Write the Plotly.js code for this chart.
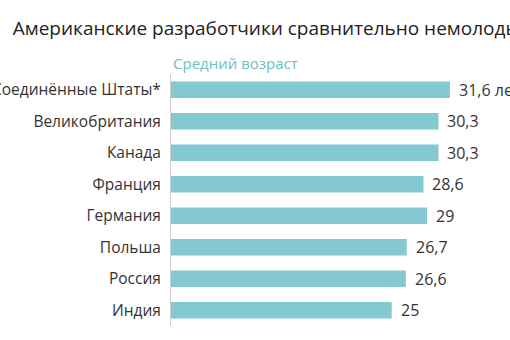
<!DOCTYPE html>
<html>
<head>
<meta charset="utf-8">
<script src="https://cdn.plot.ly/plotly-3.0.1.min.js"></script>
<style>html,body{margin:0;padding:0;background:#fff;}#chart{width:510px;height:340px;}</style>
</head>
<body>
<div id="chart"></div>
<script>
var countries = ["Соединённые Штаты*", "Великобритания", "Канада", "Франция", "Германия", "Польша", "Россия", "Индия"];
var avgAge = [31.6, 30.3, 30.3, 28.6, 29, 26.7, 26.6, 25];
var firstSuffix = " лет";
var chartTitle = "Американские разработчики сравнительно немолоды";
var seriesTitle = "Средний возраст";

function fmt(v) { return String(v).replace(".", ","); }
var labels = avgAge.map(function (v, i) { return fmt(v) + (i === 0 ? firstSuffix : ""); });

var font = "'Open Sans', 'Noto Sans', sans-serif";
var annotations = avgAge.map(function (v, i) {
  return {
    x: v, y: countries[i], xref: "x", yref: "y",
    text: labels[i], showarrow: false, xanchor: "left", yanchor: "middle",
    xshift: 7, font: {family: font, size: 16, color: "#333"}
  };
});
annotations.push({
  x: 0, y: 1, xref: "paper", yref: "paper", xanchor: "left", yanchor: "bottom",
  yshift: -1, text: seriesTitle, showarrow: false,
  font: {family: font, size: 15, color: "#6bbfc6"}
});

var trace = {
  type: "bar", orientation: "h",
  x: avgAge, y: countries,
  marker: {color: "#84c9d1"},
  width: 0.52,
  hoverinfo: "none"
};

var layout = {
  width: 510, height: 340,
  margin: {l: 171, r: 0, t: 74, b: 14},
  paper_bgcolor: "#fff", plot_bgcolor: "#fff",
  showlegend: false,
  title: {
    text: chartTitle, xref: "container", yref: "container",
    x: 0.025, xanchor: "left", y: 0.916, yanchor: "middle",
    font: {family: font, size: 19, color: "#222"}
  },
  xaxis: {range: [0, 38.4], showgrid: false, zeroline: false, showticklabels: false, showline: false, fixedrange: true},
  yaxis: {
    autorange: "reversed", showgrid: false, zeroline: false,
    showline: true, linecolor: "#cfcfcf", linewidth: 1,
    ticks: "", ticklabelstandoff: 6,
    tickfont: {family: font, size: 15.5, color: "#333"}
  },
  annotations: annotations
};

Plotly.newPlot("chart", [trace], layout, {staticPlot: true, displayModeBar: false});
</script>
</body>
</html>
